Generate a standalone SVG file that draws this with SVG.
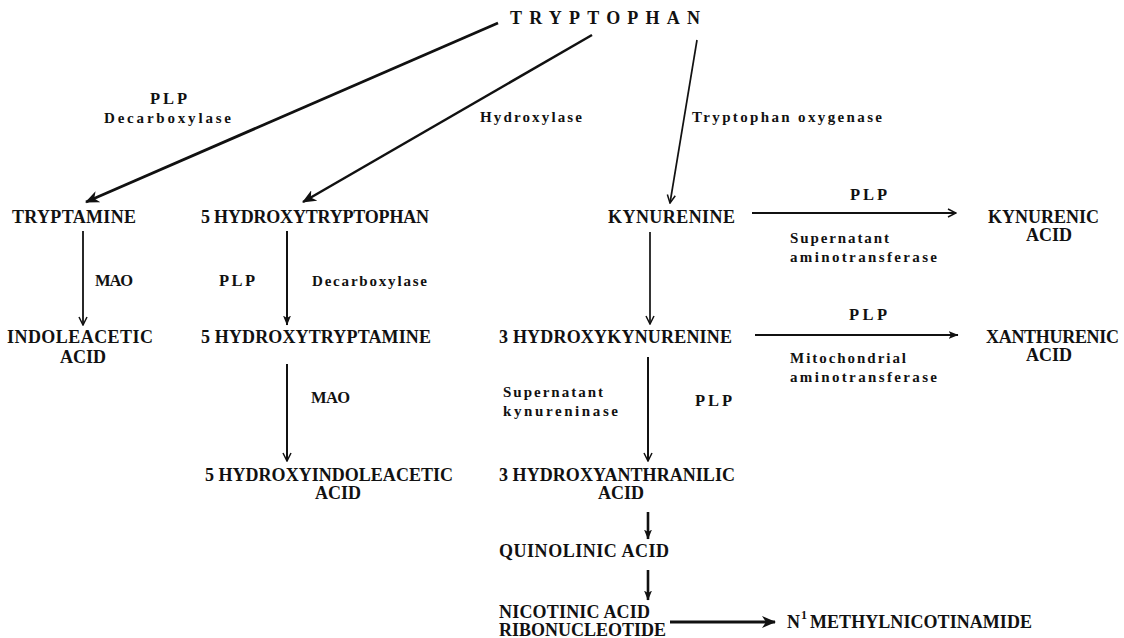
<svg xmlns="http://www.w3.org/2000/svg" width="1124" height="638" viewBox="0 0 1124 638">
<style>
text{font-family:"Liberation Serif","DejaVu Serif",serif;font-weight:bold;fill:#111}
.n{font-size:18px}
.p{font-size:16.5px}
.l{font-size:15px}
.c{stroke:#111;fill:none}
</style>
<defs>
<marker id="barb" viewBox="0 0 14 12" refX="13" refY="6" markerWidth="14" markerHeight="12" markerUnits="userSpaceOnUse" orient="auto">
<path d="M0,0 L14,6 L0,12 L4,6 Z" fill="#111"/>
</marker>
<marker id="fill" viewBox="0 0 10 10" refX="9.5" refY="5" markerWidth="10" markerHeight="10" markerUnits="userSpaceOnUse" orient="auto">
<path d="M0,1 L10,5 L0,9 L2.5,5 Z" fill="#111"/>
</marker>
<marker id="vee" viewBox="0 0 10 10" refX="9" refY="5" markerWidth="10" markerHeight="10" markerUnits="userSpaceOnUse" orient="auto">
<path d="M1,1 L9,5 L1,9" fill="none" stroke="#111" stroke-width="1.5"/>
</marker>
</defs>
<rect width="1124" height="638" fill="#fff"/>
<g id="connectors">
<line class="c" x1="498" y1="23" x2="86" y2="202" stroke-width="2.8" marker-end="url(#barb)"/>
<line class="c" x1="592" y1="35" x2="303" y2="202" stroke-width="2.5" marker-end="url(#barb)"/>
<line class="c" x1="697" y1="40" x2="670" y2="203" stroke-width="1.7" marker-end="url(#vee)"/>
<line class="c" x1="83" y1="231" x2="83" y2="325" stroke-width="1.8" marker-end="url(#vee)"/>
<line class="c" x1="287" y1="231" x2="287" y2="325" stroke-width="2" marker-end="url(#fill)"/>
<line class="c" x1="287" y1="364" x2="287" y2="461" stroke-width="2" marker-end="url(#vee)"/>
<line class="c" x1="650" y1="232" x2="650" y2="324" stroke-width="1.7" marker-end="url(#vee)"/>
<line class="c" x1="752" y1="213" x2="956" y2="213" stroke-width="1.8" marker-end="url(#vee)"/>
<line class="c" x1="755" y1="335" x2="958" y2="335" stroke-width="2" marker-end="url(#fill)"/>
<line class="c" x1="648" y1="357" x2="648" y2="461" stroke-width="2" marker-end="url(#vee)"/>
<line class="c" x1="648" y1="512" x2="648" y2="539" stroke-width="2.6" marker-end="url(#fill)"/>
<line class="c" x1="648" y1="570" x2="648" y2="600" stroke-width="2.6" marker-end="url(#fill)"/>
<line class="c" x1="670" y1="622" x2="775" y2="622" stroke-width="2.8" marker-end="url(#barb)"/>
</g>
<g id="tryptophan"><text class="n" x="510" y="24" textLength="190">TRYPTOPHAN</text></g>
<g id="lbl-decarb1"><text class="p" x="150" y="104" textLength="37">PLP</text><text class="l" x="104" y="123" textLength="127">Decarboxylase</text></g>
<g id="lbl-hydroxylase"><text class="l" x="480" y="122" textLength="102">Hydroxylase</text></g>
<g id="lbl-oxygenase"><text class="l" x="692" y="122" textLength="190">Tryptophan oxygenase</text></g>
<g id="tryptamine"><text class="n" x="12" y="223" textLength="124">TRYPTAMINE</text></g>
<g id="htp"><text class="n" x="201" y="223" textLength="228">5 HYDROXYTRYPTOPHAN</text></g>
<g id="kynurenine"><text class="n" x="608" y="223" textLength="127">KYNURENINE</text></g>
<g id="lbl-kyn-at"><text class="p" x="850" y="200" textLength="37">PLP</text><text class="l" x="790" y="243" textLength="99">Supernatant</text><text class="l" x="790" y="262" textLength="147">aminotransferase</text></g>
<g id="kynurenic"><text class="n" x="988" y="223" textLength="111">KYNURENIC</text><text class="n" x="1026" y="241" textLength="46">ACID</text></g>
<g id="lbl-mao1"><text class="p" x="95" y="286" textLength="38">MAO</text></g>
<g id="lbl-decarb2"><text class="p" x="219" y="286" textLength="36">PLP</text><text class="l" x="312" y="286" textLength="115">Decarboxylase</text></g>
<g id="iaa"><text class="n" x="7" y="343" textLength="146">INDOLEACETIC</text><text class="n" x="60" y="363" textLength="46">ACID</text></g>
<g id="ht"><text class="n" x="201" y="343" textLength="230">5 HYDROXYTRYPTAMINE</text></g>
<g id="hk"><text class="n" x="499" y="343" textLength="233">3 HYDROXYKYNURENINE</text></g>
<g id="lbl-mito"><text class="p" x="849" y="320" textLength="38">PLP</text><text class="l" x="790" y="363" textLength="116">Mitochondrial</text><text class="l" x="790" y="382" textLength="147">aminotransferase</text></g>
<g id="xanthurenic"><text class="n" x="986" y="343" textLength="133">XANTHURENIC</text><text class="n" x="1026" y="361" textLength="46">ACID</text></g>
<g id="lbl-mao2"><text class="p" x="311" y="403" textLength="39">MAO</text></g>
<g id="lbl-kynureninase"><text class="l" x="503" y="397" textLength="100">Supernatant</text><text class="l" x="503" y="416" textLength="115">kynureninase</text><text class="p" x="695" y="406" textLength="37">PLP</text></g>
<g id="hiaa"><text class="n" x="205" y="481" textLength="248">5 HYDROXYINDOLEACETIC</text><text class="n" x="315" y="499" textLength="46">ACID</text></g>
<g id="haa"><text class="n" x="499" y="481" textLength="236">3 HYDROXYANTHRANILIC</text><text class="n" x="598" y="499" textLength="46">ACID</text></g>
<g id="quinolinic"><text class="n" x="499" y="557" textLength="170">QUINOLINIC ACID</text></g>
<g id="namn"><text class="n" x="499" y="618" textLength="151">NICOTINIC ACID</text><text class="n" x="499" y="636" textLength="167">RIBONUCLEOTIDE</text></g>
<g id="nmn"><text class="n" x="787" y="628">N<tspan font-size="12" x="801" dy="-9">1</tspan><tspan x="810" dy="9" textLength="222">METHYLNICOTINAMIDE</tspan></text></g>
</svg>
